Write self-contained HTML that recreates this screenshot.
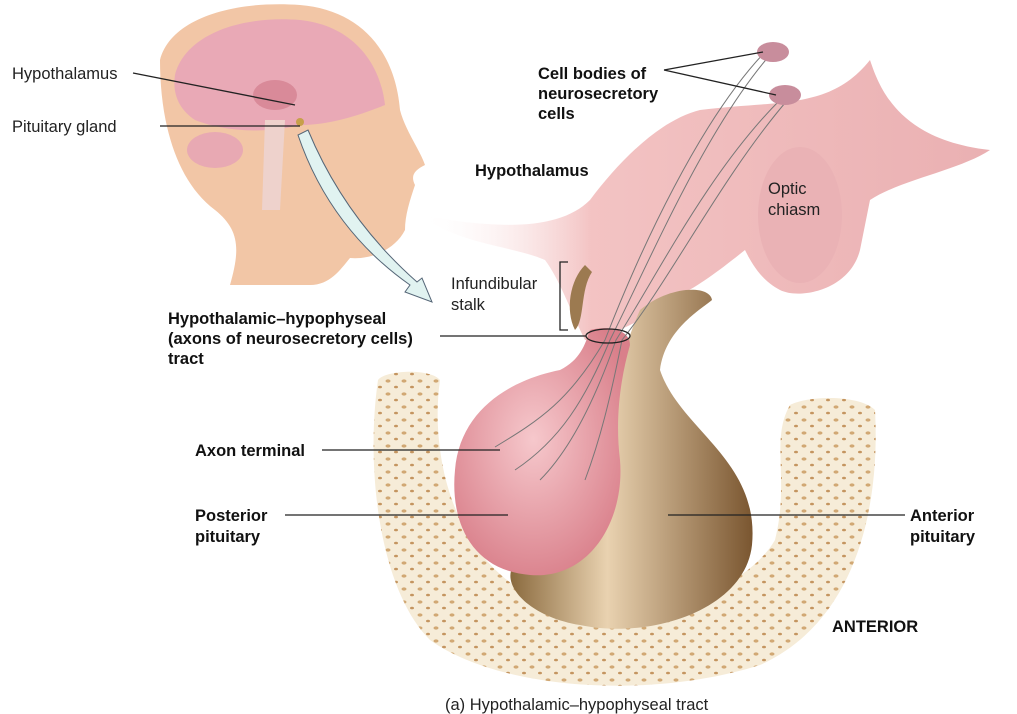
<!DOCTYPE html>
<html><head><meta charset="utf-8"><style>
body{margin:0;background:#fff;}
svg{display:block;font-family:"Liberation Sans",Arial,sans-serif;}
.b{font-weight:bold;font-size:16.5px;fill:#111}
.n{font-size:16.5px;fill:#222}
</style></head><body>
<svg width="1017" height="714" viewBox="0 0 1017 714">
<defs>
<radialGradient id="pink" cx="0.45" cy="0.45" r="0.6"><stop offset="0" stop-color="#f6c8cc"/><stop offset="1" stop-color="#d97f8a"/></radialGradient>
<linearGradient id="brown" x1="0" y1="0" x2="1" y2="0"><stop offset="0" stop-color="#8a6a3e"/><stop offset="0.4" stop-color="#e9d2b0"/><stop offset="1" stop-color="#7a5630"/></linearGradient>
<linearGradient id="hyp" x1="0" y1="0" x2="1" y2="0"><stop offset="0" stop-color="#fff" stop-opacity="0"/><stop offset="0.3" stop-color="#f3c3c3"/><stop offset="1" stop-color="#eab0b2"/></linearGradient>
<pattern id="dots" width="16" height="13" patternUnits="userSpaceOnUse"><rect width="16" height="13" fill="#f6ecd8"/><ellipse cx="4" cy="4" rx="2.5" ry="1.6" fill="#d1a874"/><ellipse cx="12" cy="10" rx="2" ry="1.3" fill="#c49560"/></pattern>
</defs>
<path d="M160,60 C170,20 230,0 300,5 C360,10 395,50 400,110 C405,130 420,150 425,165 C415,170 410,175 415,185 C410,200 405,215 405,230 C395,250 370,260 350,258 C340,270 330,285 310,285 L230,285 C240,250 240,230 215,210 C175,180 160,120 160,60 Z" fill="#f2c6a6"/>
<path d="M175,75 C185,35 240,15 300,20 C350,25 380,60 385,105 C360,115 330,125 300,125 C260,135 220,130 195,120 C180,110 172,95 175,75 Z" fill="#e9a9b6"/>
<ellipse cx="275" cy="95" rx="22" ry="15" fill="#d98a99"/>
<ellipse cx="215" cy="150" rx="28" ry="18" fill="#e8a9b3"/>
<path d="M265,120 L285,120 L280,210 L262,210 Z" fill="#eed2cc"/>
<circle cx="300" cy="122" r="4" fill="#c7a04a"/>
<path d="M298,135 C320,200 360,250 410,285 L405,292 L432,302 L422,278 L417,282 C375,245 335,195 308,130 Z" fill="#e1f3f1" stroke="#567" stroke-width="1"/>
<path d="M420,215 C500,230 560,230 590,200 C620,160 660,120 700,110 C780,100 830,110 870,60 C880,90 900,140 990,150 C960,170 900,180 870,200 L860,250 C850,290 800,300 780,290 C760,280 750,260 745,250 C720,270 700,285 680,295 L640,320 C620,330 600,340 585,340 C570,310 560,280 545,260 C510,245 460,245 420,215 Z" fill="url(#hyp)"/>
<ellipse cx="800" cy="215" rx="42" ry="68" fill="#eab2b5"/>
<path d="M378,380 C385,370 430,368 440,380 C430,450 450,560 540,600 C620,630 740,600 775,540 C790,480 770,440 790,405 C810,395 860,395 875,410 C880,500 860,620 760,665 C650,700 500,690 430,640 C380,590 365,470 378,380 Z" fill="url(#dots)"/>
<path d="M640,310 C670,285 710,285 712,300 C700,310 665,330 660,370 C680,430 760,460 752,545 C745,610 650,640 580,625 C520,615 495,575 520,560 C600,520 600,400 640,310 Z" fill="url(#brown)"/>
<path d="M585,265 C570,280 565,310 575,330 C585,320 580,290 592,272 Z" fill="#9c7a50"/>
<path d="M590,330 C610,325 630,330 630,345 C620,380 615,420 620,460 C625,520 590,580 530,575 C470,570 450,520 455,470 C460,410 510,380 560,370 C580,360 585,345 590,330 Z" fill="url(#pink)"/>
<g fill="none" stroke="#777" stroke-width="1">
<path d="M765,52 C700,120 640,250 605,340 C570,400 540,420 495,447"/>
<path d="M770,55 C705,130 650,260 610,340 C585,400 560,440 515,470"/>
<path d="M780,100 C710,170 660,270 616,340 C595,400 570,450 540,480"/>
<path d="M785,103 C720,180 670,280 622,340 C610,400 600,440 585,480"/>
</g>
<ellipse cx="773" cy="52" rx="16" ry="10" fill="#c88d9c"/>
<ellipse cx="785" cy="95" rx="16" ry="10" fill="#c88d9c"/>
<g stroke="#222" stroke-width="1.3" fill="none">
<line x1="133" y1="73" x2="295" y2="105"/>
<line x1="160" y1="126" x2="300" y2="126"/>
<line x1="664" y1="70" x2="763" y2="52"/>
<line x1="664" y1="70" x2="776" y2="95"/>
<line x1="440" y1="336" x2="586" y2="336"/>
<ellipse cx="608" cy="336" rx="22" ry="7"/>
<path d="M568,262 L560,262 L560,330 L568,330"/>
<line x1="322" y1="450" x2="500" y2="450"/>
<line x1="285" y1="515" x2="508" y2="515"/>
<line x1="668" y1="515" x2="905" y2="515"/>
</g>
<text x="12" y="79" class="n">Hypothalamus</text>
<text x="12" y="132" class="n">Pituitary gland</text>
<text x="538" y="79" class="b">Cell bodies of</text>
<text x="538" y="99" class="b">neurosecretory</text>
<text x="538" y="119" class="b">cells</text>
<text x="475" y="176" class="b">Hypothalamus</text>
<text x="768" y="194" class="n">Optic</text>
<text x="768" y="215" class="n">chiasm</text>
<text x="451" y="289" class="n">Infundibular</text>
<text x="451" y="310" class="n">stalk</text>
<text x="168" y="324" class="b">Hypothalamic–hypophyseal</text>
<text x="168" y="344" class="b">(axons of neurosecretory cells)</text>
<text x="168" y="364" class="b">tract</text>
<text x="195" y="456" class="b">Axon terminal</text>
<text x="195" y="521" class="b">Posterior</text>
<text x="195" y="542" class="b">pituitary</text>
<text x="910" y="521" class="b">Anterior</text>
<text x="910" y="542" class="b">pituitary</text>
<text x="832" y="632" class="b">ANTERIOR</text>
<text x="445" y="710" class="n">(a) Hypothalamic–hypophyseal tract</text>
</svg>
</body></html>
